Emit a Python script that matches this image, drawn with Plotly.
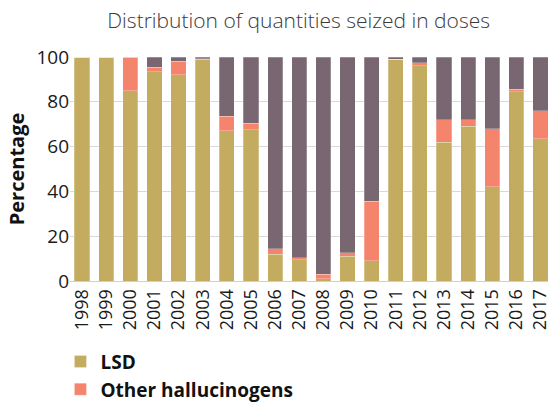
import plotly.graph_objects as go

years = [str(y) for y in range(1998, 2018)]

# Share of doses seized (%), by substance
lsd = [100, 100, 85, 93.5, 92, 99, 67, 67.5, 12, 9.5, 1, 11, 9, 99, 96, 62, 69, 42, 84.5, 63.5]
other_hallucinogens = [0, 0, 15, 2, 6, 0.2, 6.5, 3, 2.5, 0.8, 2, 1.7, 26.5, 0, 1.5, 10, 3, 26, 1.2, 12.5]
remainder = [round(100 - a - b, 1) for a, b in zip(lsd, other_hallucinogens)]

colors = {"lsd": "#C3AC60", "other": "#F5846C", "rest": "#786670"}
edge = dict(color="rgba(255,255,255,0.5)", width=0.5)

fig = go.Figure()
fig.add_bar(x=years, y=lsd, name="LSD", marker=dict(color=colors["lsd"], line=edge),
            legendgroup="a")
fig.add_bar(x=years, y=other_hallucinogens, name="Other hallucinogens",
            marker=dict(color=colors["other"], line=edge), legendgroup="b")
fig.add_bar(x=years, y=remainder, name="Other", marker=dict(color=colors["rest"], line=edge),
            showlegend=False, legendgroup="c")

fig.update_layout(
    width=548, height=403,
    barmode="stack", bargap=0.37,
    plot_bgcolor="white", paper_bgcolor="white",
    margin=dict(l=70, r=0, t=57, b=122, autoexpand=False),
    font=dict(family="Open Sans", color="#1a1a1a"),
    title=dict(text="Distribution of quantities seized in doses",
               font=dict(family="Open Sans", size=21, color="#3a3a3a", weight=300),
               x=0.545, xanchor="center", y=0.95, yanchor="middle"),
    legend=dict(x=-0.02, y=-0.275, xanchor="left", yanchor="top",
                bgcolor="rgba(0,0,0,0)",
                traceorder="grouped", tracegroupgap=0,
                font=dict(family="Open Sans", size=19, color="#111", weight=700)),
)
fig.update_xaxes(type="category", range=[-0.5, 19.31], tickangle=-90,
                 tickfont=dict(size=18, color="#1a1a1a"), showline=True,
                 linecolor="#d0d0d0", linewidth=1, ticks="")
fig.update_yaxes(range=[0, 100], dtick=20, showgrid=True, gridcolor="#d9d9d9",
                 gridwidth=1, zeroline=False, tickfont=dict(size=19, color="#1a1a1a"),
                 title=dict(text="Percentage", font=dict(size=20, color="#111", weight=700),
                            standoff=6))

fig.write_html("out.html")
